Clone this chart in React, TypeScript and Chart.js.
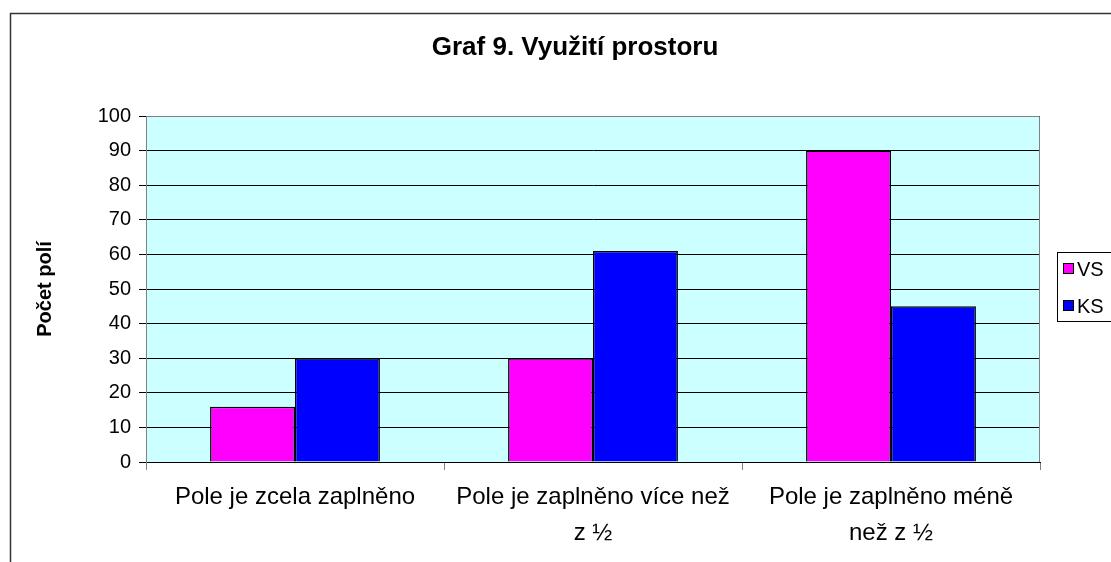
import React, { useEffect, useRef } from "react";
import { Chart, registerables } from "chart.js";

Chart.register(...registerables);

const categories: (string | string[])[] = [
  "Pole je zcela zaplněno",
  ["Pole je zaplněno více než", "z ½"],
  ["Pole je zaplněno méně", "než z ½"],
];
const seriesVS = [16, 30, 90];
const seriesKS = [30, 61, 45];
const seriesNames = ["VS", "KS"];
const seriesColors = ["#FF00FF", "#0000FF"];
const chartTitle = "Graf 9. Využití prostoru";
const yAxisTitle = "Počet polí";

const FONT = "'Liberation Sans', Arial, sans-serif";

const decorPlugin = {
  id: "decor",
  beforeDraw(chart: any) {
    const { ctx, chartArea } = chart;
    ctx.save();
    ctx.fillStyle = "#ffffff";
    ctx.fillRect(0, 0, chart.width, chart.height);
    ctx.strokeStyle = "#333333";
    ctx.lineWidth = 1.5;
    ctx.beginPath();
    ctx.moveTo(10.5, chart.height + 5);
    ctx.lineTo(10.5, 13.5);
    ctx.lineTo(chart.width + 5, 13.5);
    ctx.stroke();
    ctx.fillStyle = "#CCFFFF";
    ctx.fillRect(chartArea.left, chartArea.top, chartArea.right - chartArea.left, chartArea.bottom - chartArea.top);
    ctx.restore();
  },
  beforeDatasetsDraw(chart: any) {
    const { ctx, chartArea } = chart;
    ctx.save();
    ctx.strokeStyle = "#808080";
    ctx.lineWidth = 1;
    ctx.beginPath();
    ctx.moveTo(chartArea.left + 0.5, chartArea.bottom);
    ctx.lineTo(chartArea.left + 0.5, chartArea.top + 0.5);
    ctx.lineTo(chartArea.right - 0.5, chartArea.top + 0.5);
    ctx.lineTo(chartArea.right - 0.5, chartArea.bottom);
    ctx.stroke();
    ctx.restore();
  },
  afterDraw(chart: any) {
    const { ctx, chartArea } = chart;
    ctx.save();
    ctx.fillStyle = "#000000";
    ctx.font = `bold 26px ${FONT}`;
    ctx.textAlign = "center";
    ctx.textBaseline = "middle";
    ctx.fillText(chartTitle, 575, 48);
    ctx.save();
    ctx.translate(45, (chartArea.top + chartArea.bottom) / 2);
    ctx.rotate(-Math.PI / 2);
    ctx.font = `bold 20px ${FONT}`;
    ctx.fillText(yAxisTitle, 0, 0);
    ctx.restore();
    const lx = 1057.5;
    const ly = 252.5;
    ctx.fillStyle = "#ffffff";
    ctx.fillRect(lx, ly, 80, 69);
    ctx.strokeStyle = "#000000";
    ctx.lineWidth = 1;
    ctx.strokeRect(lx, ly, 80, 69);
    ctx.font = `20px ${FONT}`;
    ctx.textAlign = "left";
    seriesNames.forEach((name, i) => {
      const cy = 269 + i * 37;
      ctx.fillStyle = seriesColors[i];
      ctx.fillRect(1063.5, cy - 5.5, 10, 10);
      ctx.strokeStyle = "#000000";
      ctx.strokeRect(1063.5, cy - 5.5, 10, 10);
      ctx.fillStyle = "#000000";
      ctx.fillText(name, 1077, cy + 1);
    });
    ctx.restore();
  },
};

export default function App() {
  const ref = useRef<HTMLCanvasElement | null>(null);
  useEffect(() => {
    if (!ref.current) return;
    const chart = new Chart(ref.current, {
      type: "bar",
      data: {
        labels: categories as any,
        datasets: [
          {
            label: seriesNames[0],
            data: seriesVS,
            backgroundColor: seriesColors[0],
            borderColor: "#000000",
            borderWidth: 1.5,
            categoryPercentage: 0.57,
            barPercentage: 1,
          },
          {
            label: seriesNames[1],
            data: seriesKS,
            backgroundColor: seriesColors[1],
            borderColor: "#000000",
            borderWidth: 1.5,
            categoryPercentage: 0.57,
            barPercentage: 1,
          },
        ],
      },
      options: {
        animation: false,
        responsive: false,
        layout: { padding: { top: 116, right: 71, left: 0, bottom: 0 } },
        plugins: {
          legend: { display: false },
          title: { display: false },
          tooltip: { enabled: false },
        },
        scales: {
          x: {
            offset: true,
            afterFit: (s: any) => {
              s.height = 100;
            },
            grid: {
              offset: true,
              drawOnChartArea: false,
              drawTicks: true,
              tickLength: 8,
              color: "#808080",
            },
            border: { display: true, color: "#000000", width: 1 },
            ticks: {
              color: "#000000",
              font: { family: FONT, size: 24, lineHeight: 1.5 },
              padding: 9,
              maxRotation: 0,
              autoSkip: false,
            },
          },
          y: {
            min: 0,
            max: 100,
            afterFit: (s: any) => {
              s.width = 146;
            },
            grid: {
              color: "#000000",
              tickColor: "#000000",
              tickLength: 7,
              lineWidth: 1,
            },
            border: { display: true, color: "#808080", width: 1 },
            ticks: {
              stepSize: 10,
              color: "#000000",
              font: { family: FONT, size: 20 },
              padding: 8,
            },
          },
        },
      },
      plugins: [decorPlugin],
    });
    return () => chart.destroy();
  }, []);
  return (
    <div style={{ position: "fixed", left: 0, top: 0, width: 1111, height: 562, overflow: "hidden", background: "#fff" }}>
      <canvas ref={ref} width={1111} height={562} style={{ display: "block", width: 1111, height: 562 }} />
    </div>
  );
}
